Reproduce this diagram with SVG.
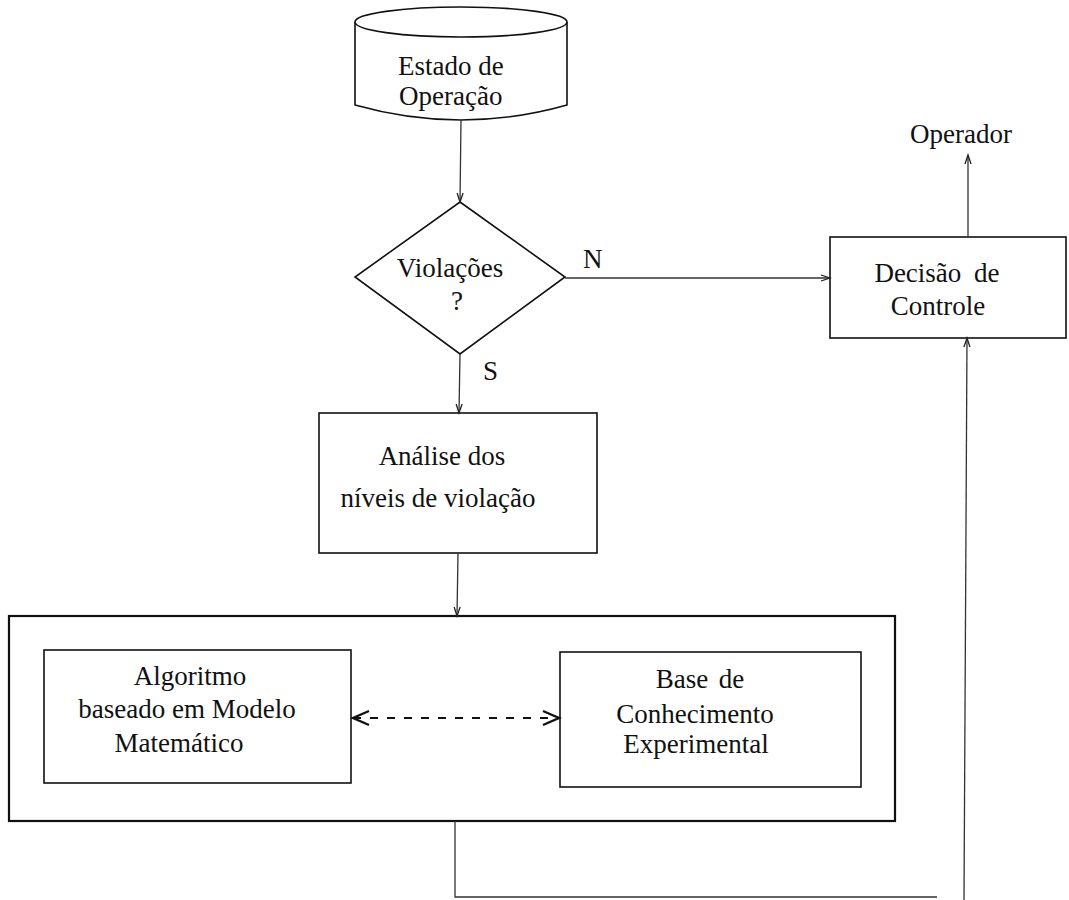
<svg xmlns="http://www.w3.org/2000/svg" width="1069" height="900" viewBox="0 0 1069 900">
<style>
  .shape { fill: #fff; stroke: #111; stroke-width: 1.6; }
  .outer { fill: none; stroke: #111; stroke-width: 2.2; }
  .lbl { font-family: "Liberation Serif", "Times New Roman", serif; font-size: 27px; fill: #111; }
  .conn { fill: none; stroke: #333; stroke-width: 1.3; }
  .dash { fill: none; stroke: #111; stroke-width: 2; stroke-dasharray: 8 9; }
</style>
<defs>
  <marker id="arr" markerUnits="userSpaceOnUse" markerWidth="12" markerHeight="10" refX="10" refY="4" orient="auto">
    <path d="M1,1 L10,4 L1,7" fill="none" stroke="#222" stroke-width="1.3"/>
  </marker>
  <marker id="open" markerUnits="userSpaceOnUse" markerWidth="20" markerHeight="18" refX="17" refY="9" orient="auto-start-reverse">
    <path d="M1,2 L17,9 L1,16" fill="none" stroke="#111" stroke-width="2.4"/>
  </marker>
</defs>
<rect width="1069" height="900" fill="#fff"/>

<g id="estado">
  <path class="shape" d="M355,22 L355,105 Q461,135 567,105 L567,22"/>
  <ellipse class="shape" cx="461" cy="22" rx="106" ry="15"/>
  <text class="lbl" x="398" y="75">Estado de</text>
  <text class="lbl" x="399" y="105">Operação</text>
</g>

<g id="violacoes">
  <polygon class="shape" points="460,202 565,277 460,354 355,277"/>
  <text class="lbl" x="450" y="277" text-anchor="middle">Violações</text>
  <text class="lbl" x="457" y="310" text-anchor="middle">?</text>
</g>

<g id="analise">
  <rect class="shape" x="319" y="413" width="278" height="140"/>
  <text class="lbl" x="442" y="465" text-anchor="middle">Análise dos</text>
  <text class="lbl" x="438" y="507" text-anchor="middle">níveis de violação</text>
</g>

<g id="decisao">
  <rect class="shape" x="830" y="237" width="236" height="101"/>
  <text class="lbl" x="937" y="282" text-anchor="middle" word-spacing="6">Decisão de</text>
  <text class="lbl" x="938" y="315" text-anchor="middle">Controle</text>
</g>

<g id="operador">
  <text class="lbl" x="961" y="143" text-anchor="middle">Operador</text>
</g>

<g id="modulo">
  <rect class="outer" x="9" y="616" width="886" height="205"/>
</g>

<g id="algoritmo">
  <rect class="shape" x="44" y="650" width="307" height="133"/>
  <text class="lbl" x="190" y="685" text-anchor="middle">Algoritmo</text>
  <text class="lbl" x="187" y="718" text-anchor="middle">baseado em Modelo</text>
  <text class="lbl" x="179" y="752" text-anchor="middle">Matemático</text>
</g>

<g id="base">
  <rect class="shape" x="560" y="652" width="301" height="135"/>
  <text class="lbl" x="700" y="688" text-anchor="middle" word-spacing="4">Base de</text>
  <text class="lbl" x="695" y="723" text-anchor="middle">Conhecimento</text>
  <text class="lbl" x="696" y="753" text-anchor="middle">Experimental</text>
</g>

<g id="connectors">
  <line class="conn" x1="461" y1="120" x2="460" y2="202" marker-end="url(#arr)"/>
  <line class="conn" x1="565" y1="278" x2="830" y2="278" marker-end="url(#arr)"/>
  <text class="lbl" x="583" y="268">N</text>
  <line class="conn" x1="460" y1="354" x2="459" y2="413" marker-end="url(#arr)"/>
  <text class="lbl" x="483" y="380">S</text>
  <line class="conn" x1="458" y1="553" x2="457" y2="616" marker-end="url(#arr)"/>
  <line class="conn" x1="968" y1="237" x2="968" y2="155" marker-end="url(#arr)"/>
  <line class="dash" x1="353" y1="718" x2="559" y2="718" marker-start="url(#open)" marker-end="url(#open)"/>
  <polyline class="conn" points="455,821 455,897 937,897"/>
  <line class="conn" x1="964" y1="900" x2="967" y2="338" marker-end="url(#arr)"/>
</g>
</svg>
